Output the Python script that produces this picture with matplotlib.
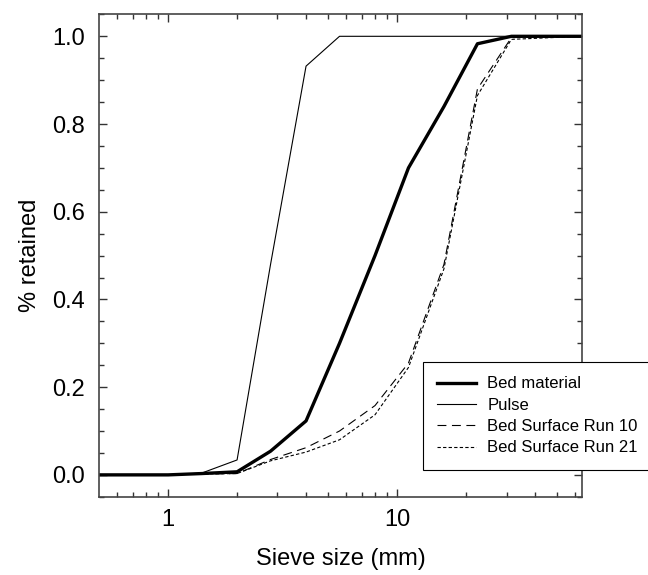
import numpy as np
import matplotlib
matplotlib.use("Agg")
import matplotlib.pyplot as plt
from matplotlib.ticker import FixedLocator, NullFormatter, FormatStrFormatter

plt.rcParams['font.family'] = ['Liberation Sans', 'DejaVu Sans']

# sieve sizes (mm) and cumulative fraction retained
sizes = [0.5, 1, 1.4, 2, 2.8, 4, 5.6, 8, 11.2, 16, 22.4, 31.5, 64]
bed_material = [0, 0, 0.003, 0.007, 0.054, 0.123, 0.30, 0.50, 0.70, 0.84, 0.983, 1.0, 1.0]
pulse = [0, 0, 0.004, 0.034, 0.48, 0.932, 1.0, 1.0, 1.0, 1.0, 1.0, 1.0, 1.0]
run10 = [0, 0, 0.002, 0.003, 0.035, 0.062, 0.10, 0.158, 0.255, 0.48, 0.88, 0.997, 1.0]
run21 = [0, 0, 0.002, 0.003, 0.032, 0.052, 0.08, 0.137, 0.245, 0.47, 0.865, 0.993, 1.0]

fig = plt.figure(figsize=(6.48, 5.75), dpi=100)
ax = fig.add_axes([0.153, 0.136, 0.745, 0.839])

ax.plot(sizes, bed_material, color='black', lw=2.4, label='Bed material')
ax.plot(sizes, pulse, color='black', lw=0.8, label='Pulse')
ax.plot(sizes, run10, color='black', lw=0.8, dashes=(8, 5), label='Bed Surface Run 10')
ax.plot(sizes, run21, color='black', lw=0.8, dashes=(3, 2), label='Bed Surface Run 21')

ax.set_xscale('log')
ax.set_xlim(0.5, 64)
ax.set_ylim(-0.05, 1.05)
ax.xaxis.set_major_locator(FixedLocator([1, 10]))
ax.xaxis.set_major_formatter(FormatStrFormatter('%g'))
ax.xaxis.set_minor_locator(FixedLocator([0.6, 0.7, 0.8, 0.9, 2, 3, 4, 5, 6, 7, 8, 9,
                                         20, 30, 40, 50, 60]))
ax.xaxis.set_minor_formatter(NullFormatter())
ax.set_yticks(np.arange(0, 1.01, 0.2))
ax.yaxis.set_major_formatter(FormatStrFormatter('%.1f'))
ax.set_yticks(np.arange(-0.05, 1.06, 0.05), minor=True)

ax.tick_params(which='both', direction='in', top=True, right=True, color='#333333')
ax.tick_params(which='major', length=6, width=1, labelsize=17)
ax.tick_params(which='minor', length=3.5, width=1)
ax.tick_params(axis='x', which='major', pad=9)
ax.tick_params(axis='y', which='major', pad=10)
for s in ax.spines.values():
    s.set_color('#444444')
    s.set_linewidth(1.2)

ax.set_xlabel('Sieve size (mm)', fontsize=17, labelpad=12)
ax.set_ylabel('% retained', fontsize=17, labelpad=8)

leg = ax.legend(loc='upper left', bbox_to_anchor=(0.653, 0.37, 0.36, 0.0),
                bbox_transform=fig.transFigure, mode='expand', fontsize=12,
                frameon=True, fancybox=False, edgecolor='black', framealpha=1,
                handlelength=2.3, handletextpad=0.7, labelspacing=0.38,
                borderpad=0.85, borderaxespad=0)
leg.get_frame().set_linewidth(0.8)
leg.set_clip_on(False)

fig.savefig('out.png', dpi=100)
